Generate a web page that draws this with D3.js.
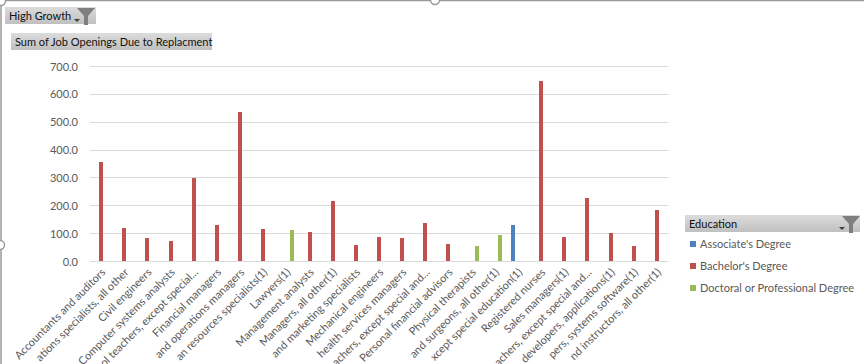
<!DOCTYPE html>
<html><head><meta charset="utf-8">
<script src="https://cdn.jsdelivr.net/npm/d3@7"></script>
<style>html,body{margin:0;padding:0;background:#fff;overflow:hidden}svg{display:block}text{font-family:Lato,"Open Sans",sans-serif}</style>
</head><body><svg id="c" width="864" height="364"></svg>
<script>
const categories = ["Accountants and auditors","ations specialists, all other","Civil engineers","Computer systems analysts","ol teachers, except special...","Financial managers"," and operations managers","an resources specialists(1)","Lawyers(1)","Management analysts","Managers, all other(1)"," and marketing specialists","Mechanical engineers"," health services managers","eachers, except special and...","Personal financial advisors","Physical therapists","and surgeons, all other(1)","xcept special education(1)","Registered nurses","Sales managers(1)","achers, except special and...","developers, applications(1)","pers, systems software(1)","nd instructors, all other(1)"];
const seriesNames = ["Associate's Degree","Bachelor's Degree","Doctoral or Professional Degree"];
const associate = [0,0,0,0,0,0,0,0,0,0,0,0,0,0,0,0,0,0,130,0,0,0,0,0,0];
const bachelor = [356,120,84,73,299,130,536,116,0,105,216,59,87,84,138,62,0,0,0,647,87,227,102,55,184];
const doctoral = [0,0,0,0,0,0,0,0,112,0,0,0,0,0,0,0,55,95,0,0,0,0,0,0,0];
const colors = ["#4f81bd","#c0504d","#9bbb59"];
const yTicks = [0,100,200,300,400,500,600,700];

const svg = d3.select("#c");
const defs = svg.append("defs");
const g = defs.append("linearGradient").attr("id","btn").attr("x1",0).attr("x2",0).attr("y1",0).attr("y2",1);
g.append("stop").attr("offset","0").attr("stop-color","#dcdcdc");
g.append("stop").attr("offset","1").attr("stop-color","#c0c0c0");

const x = d3.scaleBand().domain(categories).range([89.5,668.5]);
const inner = d3.scaleBand().domain([0,1,2]).range([0,x.bandwidth()]).paddingInner(0.23).paddingOuter(0.84);
const y = d3.scaleLinear().domain([0,700]).range([261.5,66.5]);

// gridlines
svg.append("g").selectAll("line").data(yTicks).join("line")
  .attr("x1",89.5).attr("x2",668.5).attr("y1",d=>Math.floor(y(d))+.5).attr("y2",d=>Math.floor(y(d))+.5)
  .attr("stroke","#d9d9d9");
svg.append("g").selectAll("text").data(yTicks).join("text")
  .attr("x",78).attr("y",d=>y(d)+4).attr("text-anchor","end")
  .attr("font-size",11).attr("fill","#595959").text(d=>d3.format(".1f")(d));

// bars
[associate,bachelor,doctoral].forEach((vals,s)=>{
  svg.append("g").selectAll("rect").data(vals.map((v,i)=>({v,c:categories[i]})).filter(d=>d.v>0)).join("rect")
    .attr("x",d=>Math.round(x(d.c)+inner(s))).attr("width",Math.round(inner.bandwidth()))
    .attr("y",d=>Math.round(y(d.v))).attr("height",d=>261-Math.round(y(d.v))).attr("fill",colors[s]);
});

// category labels
svg.append("g").selectAll("text").data(categories).join("text")
  .attr("text-anchor","end").attr("font-size",11).attr("fill","#595959")
  .attr("transform",d=>`translate(${x(d)+x.bandwidth()/2+5},273) rotate(-45)`)
  .text(d=>d);

function funnel(cx,top){
  svg.append("path").attr("fill","#7f7f7f")
    .attr("d",`M${cx-9} ${top}H${cx+9}L${cx+2} ${top+8}V${top+17}H${cx-2}V${top+8}Z`);
  svg.append("path").attr("fill","#404040")
    .attr("d",`M${cx-12} ${top+11}h6l-3 3Z`);
}
function button(bx,by,w,h,label){
  svg.append("rect").attr("x",bx).attr("y",by).attr("width",w).attr("height",h).attr("fill","url(#btn)");
  svg.append("text").attr("x",bx+4).attr("y",by+13).attr("font-size",11).attr("fill","#111").text(label);
}
button(5,7,91,17,"High Growth"); funnel(86,8);
button(11,33,201,17,"Sum of Job Openings Due to Replacment");
button(685,215,175,17,"Education"); funnel(851,216);

// legend
const ly = [244,266,288];
svg.append("g").selectAll("rect").data(seriesNames).join("rect")
  .attr("x",690).attr("y",(d,i)=>ly[i]-3).attr("width",6).attr("height",6).attr("fill",(d,i)=>colors[i]);
svg.append("g").selectAll("text").data(seriesNames).join("text")
  .attr("x",700).attr("y",(d,i)=>ly[i]+4).attr("font-size",11).attr("fill","#595959").text(d=>d);

// selection frame
svg.append("path").attr("fill","none").attr("stroke","#9a9a9a").attr("stroke-width",1.5)
  .attr("d","M1 6V364M6 .5H864");
[[1,1],[435,0],[0,245]].forEach(p=>svg.append("circle").attr("cx",p[0]).attr("cy",p[1]).attr("r",4.5)
  .attr("fill","#fff").attr("stroke","#9a9a9a").attr("stroke-width",1.5));
</script></body></html>
